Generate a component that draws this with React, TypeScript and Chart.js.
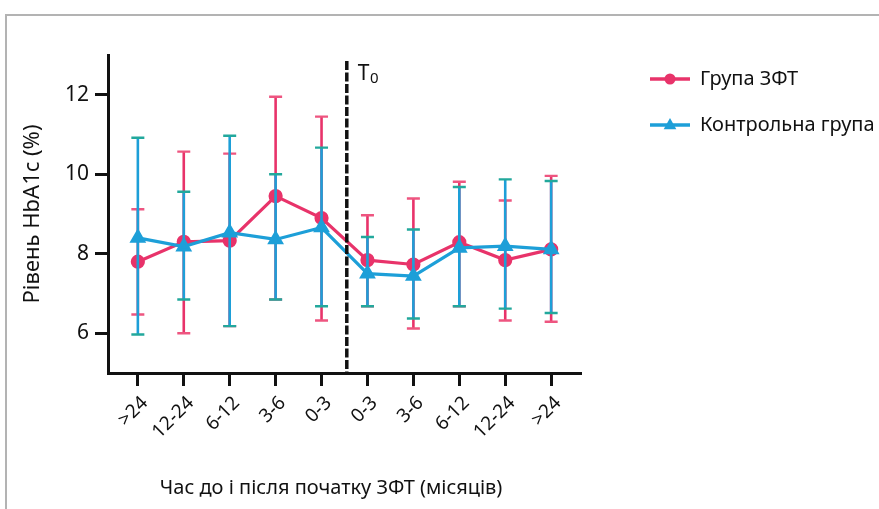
import React, { useEffect, useRef } from "react";
import { Chart, registerables } from "chart.js";

Chart.register(...registerables);

const categories = [">24", "12-24", "6-12", "3-6", "0-3", "0-3", "3-6", "6-12", "12-24", ">24"];
const yTickValues = [6, 8, 10, 12];

const zftMean = [7.8, 8.3, 8.33, 9.45, 8.9, 7.84, 7.73, 8.29, 7.84, 8.11];
const zftHigh = [9.12, 10.57, 10.52, 11.95, 11.45, 8.97, 9.39, 9.81, 9.34, 9.96];
const zftLow = [6.47, 6.0, 6.18, 6.85, 6.32, 6.68, 6.12, 6.68, 6.32, 6.29];

const ctrlMean = [8.4, 8.18, 8.53, 8.36, 8.66, 7.5, 7.44, 8.15, 8.19, 8.11];
const ctrlHigh = [10.92, 9.56, 10.97, 10.0, 10.67, 8.42, 8.61, 9.68, 9.87, 9.83];
const ctrlLow = [5.97, 6.85, 6.18, 6.85, 6.68, 6.68, 6.37, 6.68, 6.62, 6.51];

const t0Position = 4.55;
const seriesLabels = ["Група ЗФТ", "Контрольна група"];
const yTitle = "Рівень HbA1c (%)";
const xTitle = "Час до і після початку ЗФТ (місяців)";

const RED = "#e8336a";
const RED_CAP = "#ee5580";
const BLUE = "#1d9fd8";
const BLUE_CAP = "#22a89c";
const FONT = "'Noto Sans', 'DejaVu Sans', sans-serif";
const INK = "#111111";

const errorBarPlugin = {
  id: "errorBars",
  beforeDatasetDraw(chart: any, args: any) {
    const ds = chart.data.datasets[args.index];
    if (!ds.errLow) return;
    const xs = chart.scales.x;
    const ys = chart.scales.y;
    const ctx = chart.ctx;
    ctx.save();
    ds.errLow.forEach((lo: number, i: number) => {
      const px = xs.getPixelForValue(i);
      const pLo = ys.getPixelForValue(lo);
      const pHi = ys.getPixelForValue(ds.errHigh[i]);
      ctx.strokeStyle = ds.borderColor;
      ctx.lineWidth = 2.6;
      ctx.beginPath();
      ctx.moveTo(px, pLo);
      ctx.lineTo(px, pHi);
      ctx.stroke();
      ctx.strokeStyle = ds.capColor;
      ctx.lineWidth = 2.4;
      ctx.beginPath();
      ctx.moveTo(px - 6.5, pLo);
      ctx.lineTo(px + 6.5, pLo);
      ctx.moveTo(px - 6.5, pHi);
      ctx.lineTo(px + 6.5, pHi);
      ctx.stroke();
    });
    ctx.restore();
  },
};

const markerPlugin = {
  id: "markers",
  afterDatasetsDraw(chart: any) {
    const ctx = chart.ctx;
    const xs = chart.scales.x;
    const ys = chart.scales.y;
    const px = xs.getPixelForValue(t0Position);
    ctx.save();
    ctx.strokeStyle = INK;
    ctx.lineWidth = 3.5;
    ctx.setLineDash([9, 2.5]);
    ctx.beginPath();
    ctx.moveTo(px, ys.getPixelForValue(12.85));
    ctx.lineTo(px, ys.bottom);
    ctx.stroke();
    ctx.setLineDash([]);
    ctx.fillStyle = INK;
    ctx.textBaseline = "alphabetic";
    ctx.textAlign = "left";
    ctx.font = `21px ${FONT}`;
    const tx = px + 11;
    const ty = 80;
    ctx.fillText("T", tx, ty);
    const tw = ctx.measureText("T").width;
    ctx.font = `15px ${FONT}`;
    ctx.fillText("0", tx + tw + 0.5, ty + 3);

    // x axis title
    ctx.font = `20px ${FONT}`;
    ctx.textAlign = "center";
    ctx.textBaseline = "middle";
    ctx.fillText(xTitle, 331, 488);

    // legend
    const rows = [79, 125];
    chart.data.datasets.forEach((ds: any, i: number) => {
      const y = rows[i];
      const cx = 670;
      ctx.strokeStyle = ds.borderColor;
      ctx.lineWidth = 3.5;
      ctx.beginPath();
      ctx.moveTo(650, y);
      ctx.lineTo(690, y);
      ctx.stroke();
      ctx.fillStyle = ds.backgroundColor;
      ctx.beginPath();
      if (ds.pointStyle === "triangle") {
        const r = 7;
        ctx.moveTo(cx, y - r);
        ctx.lineTo(cx + r * 0.9, y + r * 0.6);
        ctx.lineTo(cx - r * 0.9, y + r * 0.6);
        ctx.closePath();
      } else {
        ctx.arc(cx, y, 5.5, 0, Math.PI * 2);
      }
      ctx.fill();
      ctx.fillStyle = INK;
      ctx.font = `20px ${FONT}`;
      ctx.textAlign = "left";
      ctx.textBaseline = "middle";
      ctx.fillText(ds.label, 700, y);
    });
    ctx.restore();
  },
};

export default function App() {
  const ref = useRef<HTMLCanvasElement | null>(null);

  useEffect(() => {
    if (!ref.current) return;
    const chart = new Chart(ref.current, {
      type: "line",
      data: {
        datasets: [
          {
            label: seriesLabels[0],
            data: zftMean.map((y, i) => ({ x: i, y })),
            borderColor: RED,
            backgroundColor: RED,
            pointBackgroundColor: RED,
            pointBorderColor: RED,
            pointStyle: "circle",
            pointRadius: 5.5,
            borderWidth: 3.2,
            order: 2,
            errLow: zftLow,
            errHigh: zftHigh,
            capColor: RED_CAP,
          } as any,
          {
            label: seriesLabels[1],
            data: ctrlMean.map((y, i) => ({ x: i, y })),
            borderColor: BLUE,
            backgroundColor: BLUE,
            pointBackgroundColor: BLUE,
            pointBorderColor: BLUE,
            pointStyle: "triangle",
            pointRadius: 6.5,
            borderWidth: 3.2,
            order: 1,
            errLow: ctrlLow,
            errHigh: ctrlHigh,
            capColor: BLUE_CAP,
          } as any,
        ],
      },
      options: {
        animation: false,
        responsive: false,
        layout: { padding: { left: 0, right: 298, top: 55, bottom: 0 } },
        plugins: { legend: { display: false }, tooltip: { enabled: false } },
        scales: {
          x: {
            type: "linear",
            min: -0.65,
            max: 9.65,
            afterBuildTicks: (s: any) => {
              s.ticks = categories.map((_, i) => ({ value: i }));
            },
            afterFit: (s: any) => {
              s.height = 136;
            },
            ticks: {
              callback: (v: any) => categories[v as number],
              minRotation: 45,
              maxRotation: 45,
              autoSkip: false,
              color: INK,
              padding: 6,
              labelOffset: 7,
              font: { family: FONT, size: 19 },
            },
            grid: {
              drawOnChartArea: false,
              drawTicks: true,
              tickLength: 13,
              tickColor: INK,
              tickWidth: 3,
            },
            border: { color: INK, width: 3 },
          },
          y: {
            min: 5,
            max: 13,
            afterBuildTicks: (s: any) => {
              s.ticks = yTickValues.map((v) => ({ value: v }));
            },
            afterFit: (s: any) => {
              s.width = 108;
            },
            ticks: {
              color: INK,
              padding: 6,
              font: { family: FONT, size: 21 },
            },
            grid: {
              drawOnChartArea: false,
              drawTicks: true,
              tickLength: 13,
              tickColor: INK,
              tickWidth: 3,
            },
            border: { color: INK, width: 3 },
            title: {
              display: true,
              text: yTitle,
              color: INK,
              font: { family: FONT, size: 22 },
              padding: { top: 20, bottom: 0 },
            },
          },
        },
      },
      plugins: [errorBarPlugin, markerPlugin],
    } as any);
    return () => chart.destroy();
  }, []);

  return (
    <div style={{ position: "fixed", left: 0, top: 0, width: 879, height: 509, background: "#fff" }}>
      <canvas ref={ref} width={879} height={509} style={{ position: "absolute", left: 0, top: 0, width: 879, height: 509, display: "block" }} />
      <div
        style={{
          position: "absolute",
          left: 5,
          top: 14,
          right: 0,
          bottom: 0,
          borderTop: "2px solid #b3b3b3",
          borderLeft: "2px solid #b3b3b3",
          pointerEvents: "none",
        }}
      />
    </div>
  );
}
